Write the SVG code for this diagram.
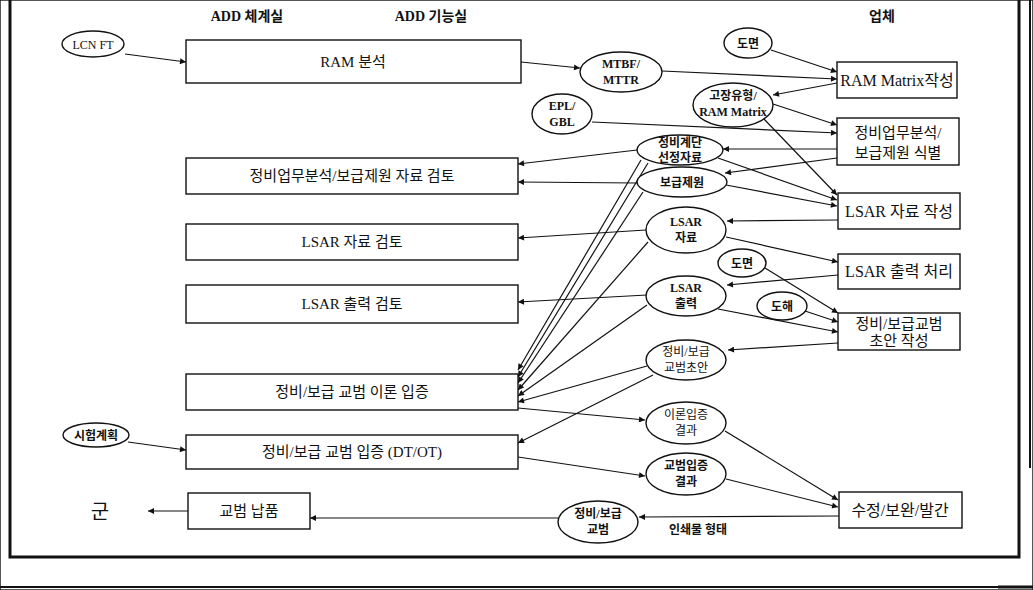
<svg xmlns="http://www.w3.org/2000/svg" width="1033" height="590" viewBox="0 0 1033 590">
<style>
text{font-family:"Liberation Serif","Noto Sans CJK KR",serif;fill:#111;text-anchor:middle}
.t{font-size:15px}
.b{font-size:16px}
.e{font-size:12px;font-weight:bold}
.n{font-size:12px}
.h{font-size:14px;font-weight:bold}
rect,ellipse{fill:#fff;stroke:#111;stroke-width:1.4}
#connectors line{stroke:#111;stroke-width:1.2;marker-end:url(#ah)}
.frame{stroke:#111;fill:none}
</style>
<defs>
<marker id="ah" viewBox="0 0 10 10" refX="10" refY="5" markerWidth="8" markerHeight="6" markerUnits="userSpaceOnUse" orient="auto">
<path d="M0,0 L10,5 L0,10 z" fill="#111"/>
</marker>
</defs>
<rect width="1033" height="590" fill="#fff" stroke="none"/>
<g id="frame">
<path class="frame" d="M10,0 V557 H1019 V0" stroke-width="3"/>
<line class="frame" x1="1030" y1="0" x2="1030" y2="468" stroke-width="2"/>
<line class="frame" x1="0" y1="587" x2="1033" y2="587" stroke-width="2"/>
<line class="frame" x1="998" y1="587" x2="1033" y2="587" stroke-width="3"/>
</g>
<g id="headers">
<text class="h" x="247" y="21">ADD 체계실</text>
<text class="h" x="431" y="21">ADD 기능실</text>
<text class="h" x="882" y="21">업체</text>
</g>
<g id="connectors">
<line x1="125" y1="54" x2="186" y2="62"/>
<line x1="521" y1="62" x2="580" y2="68"/>
<line x1="662" y1="71" x2="837" y2="79"/>
<line x1="771" y1="50" x2="837" y2="72"/>
<line x1="837" y1="83" x2="773" y2="95"/>
<line x1="773" y1="104" x2="837" y2="125"/>
<line x1="592" y1="122" x2="837" y2="133"/>
<line x1="763" y1="118" x2="837" y2="195"/>
<line x1="837" y1="149" x2="723" y2="149"/>
<line x1="837" y1="158" x2="725" y2="173"/>
<line x1="718" y1="158" x2="837" y2="200"/>
<line x1="726" y1="185" x2="837" y2="206"/>
<line x1="637" y1="150" x2="518" y2="164"/>
<line x1="637" y1="183" x2="518" y2="182"/>
<line x1="838" y1="220" x2="727" y2="221"/>
<line x1="646" y1="230" x2="518" y2="238"/>
<line x1="726" y1="237" x2="838" y2="262"/>
<line x1="838" y1="275" x2="727" y2="285"/>
<line x1="647" y1="295" x2="518" y2="302"/>
<line x1="765" y1="268" x2="838" y2="313"/>
<line x1="805" y1="311" x2="838" y2="322"/>
<line x1="718" y1="309" x2="838" y2="332"/>
<line x1="838" y1="343" x2="728" y2="350"/>
<line x1="641" y1="160" x2="518" y2="370"/>
<line x1="648" y1="163" x2="518" y2="377"/>
<line x1="643" y1="192" x2="518" y2="383"/>
<line x1="648" y1="242" x2="518" y2="390"/>
<line x1="647" y1="305" x2="518" y2="396"/>
<line x1="647" y1="366" x2="518" y2="402"/>
<line x1="653" y1="375" x2="518" y2="443"/>
<line x1="518" y1="408" x2="645" y2="420"/>
<line x1="725" y1="431" x2="838" y2="500"/>
<line x1="518" y1="457" x2="645" y2="476"/>
<line x1="726" y1="479" x2="838" y2="507"/>
<line x1="839" y1="516" x2="639" y2="517"/>
<line x1="558" y1="518" x2="310" y2="518"/>
<line x1="188" y1="511" x2="148" y2="511"/>
<line x1="128" y1="442" x2="186" y2="450"/>
</g>
<g id="lcnft"><ellipse cx="93" cy="44" rx="31" ry="13"/><text class="n" x="93" y="49">LCN FT</text></g>
<g id="ram-analysis"><rect x="186" y="40" width="335" height="43"/><text class="t" x="353" y="67">RAM 분석</text></g>
<g id="mtbf"><ellipse cx="621" cy="72" rx="41" ry="20"/><text class="e" x="621" y="68">MTBF/</text><text class="e" x="621" y="84">MTTR</text></g>
<g id="drawing-top"><ellipse cx="748" cy="43" rx="24" ry="15"/><text class="e" x="748" y="48">도면</text></g>
<g id="ram-matrix"><rect x="837" y="62" width="120" height="36"/><text class="b" x="897" y="86">RAM Matrix작성</text></g>
<g id="failure-mode"><ellipse cx="733" cy="105" rx="40" ry="22"/><text class="e" x="733" y="100">고장유형/</text><text class="e" x="733" y="116">RAM Matrix</text></g>
<g id="epl"><ellipse cx="562" cy="114" rx="30" ry="20"/><text class="e" x="562" y="110">EPL/</text><text class="e" x="562" y="126">GBL</text></g>
<g id="task-analysis"><rect x="837" y="118" width="122" height="47"/><text class="t" x="898" y="138">정비업무분석/</text><text class="t" x="898" y="158">보급제원 식별</text></g>
<g id="maint-level"><ellipse cx="680" cy="150" rx="43" ry="15"/><text class="e" x="680" y="147">정비계단</text><text class="e" x="680" y="162">선정자료</text></g>
<g id="supply-data"><ellipse cx="682" cy="182" rx="45" ry="15"/><text class="e" x="682" y="187">보급제원</text></g>
<g id="review-task"><rect x="186" y="158" width="332" height="36"/><text class="t" x="352" y="181">정비업무분석/보급제원 자료 검토</text></g>
<g id="lsar-make"><rect x="838" y="193" width="122" height="36"/><text class="b" x="899" y="217">LSAR 자료 작성</text></g>
<g id="lsar-data"><ellipse cx="686" cy="230" rx="40" ry="23"/><text class="e" x="686" y="226">LSAR</text><text class="e" x="686" y="242">자료</text></g>
<g id="review-lsar"><rect x="186" y="224" width="332" height="36"/><text class="t" x="352" y="247">LSAR 자료 검토</text></g>
<g id="drawing-mid"><ellipse cx="742" cy="263" rx="24" ry="14"/><text class="e" x="742" y="268">도면</text></g>
<g id="lsar-output-proc"><rect x="838" y="254" width="122" height="35"/><text class="b" x="899" y="277">LSAR 출력 처리</text></g>
<g id="lsar-output"><ellipse cx="686" cy="296" rx="40" ry="20"/><text class="e" x="686" y="292">LSAR</text><text class="e" x="686" y="308">출력</text></g>
<g id="review-output"><rect x="186" y="285" width="332" height="38"/><text class="t" x="352" y="309">LSAR 출력 검토</text></g>
<g id="illustration"><ellipse cx="782" cy="306" rx="25" ry="14"/><text class="e" x="782" y="311">도해</text></g>
<g id="draft-make"><rect x="838" y="313" width="122" height="37"/><text class="t" x="899" y="329">정비/보급교범</text><text class="t" x="899" y="346">초안 작성</text></g>
<g id="draft"><ellipse cx="686" cy="360" rx="40" ry="20"/><text class="n" x="686" y="356">정비/보급</text><text class="n" x="686" y="372">교범초안</text></g>
<g id="theory-verify"><rect x="186" y="374" width="332" height="36"/><text class="t" x="352" y="397">정비/보급 교범 이론 입증</text></g>
<g id="theory-result"><ellipse cx="686" cy="423" rx="40" ry="21"/><text class="n" x="686" y="419">이론입증</text><text class="n" x="686" y="435">결과</text></g>
<g id="test-plan"><ellipse cx="96" cy="435" rx="33" ry="12"/><text class="e" x="96" y="440">시험계획</text></g>
<g id="dtot"><rect x="186" y="435" width="332" height="34"/><text class="t" x="352" y="457">정비/보급 교범 입증 (DT/OT)</text></g>
<g id="manual-result"><ellipse cx="686" cy="474" rx="40" ry="21"/><text class="e" x="686" y="470">교범입증</text><text class="e" x="686" y="486">결과</text></g>
<g id="revise"><rect x="839" y="492" width="123" height="36"/><text class="b" x="900" y="516">수정/보완/발간</text></g>
<g id="manual"><ellipse cx="598" cy="522" rx="40" ry="21"/><text class="e" x="598" y="518">정비/보급</text><text class="e" x="598" y="534">교범</text></g>
<text class="e" x="698" y="534">인쇄물 형태</text>
<g id="delivery"><rect x="188" y="493" width="122" height="36"/><text class="t" x="249" y="516">교범 납품</text></g>
<g id="army"><text x="100" y="519" style="font-size:20px">군</text></g>
</svg>
